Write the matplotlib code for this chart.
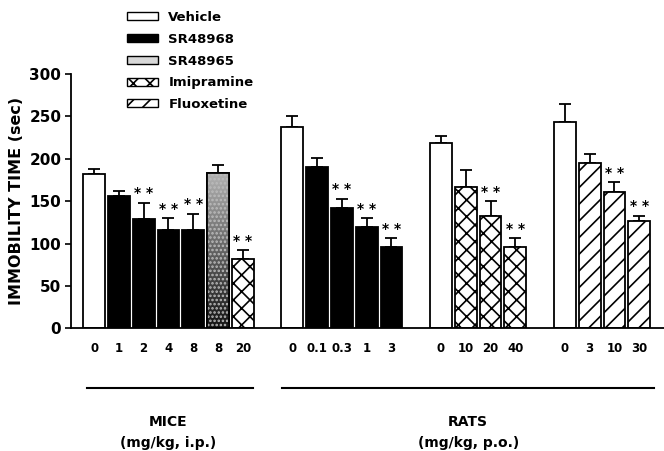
import numpy as np
import matplotlib
matplotlib.use('Agg')
import matplotlib.pyplot as plt
from matplotlib.patches import Patch

plt.rcParams['font.family'] = ['DejaVu Sans']
plt.rcParams['font.weight'] = 'bold'
plt.rcParams['hatch.linewidth'] = 1.2

# bar positions (gaps of one slot between groups)
pos = [0, 1, 2, 3, 4, 5, 6,
       8, 9, 10, 11, 12,
       14, 15, 16, 17,
       19, 20, 21, 22]
dose_labels = ['0', '1', '2', '4', '8', '8', '20',
               '0', '0.1', '0.3', '1', '3',
               '0', '10', '20', '40',
               '0', '3', '10', '30']
treatment = ['Vehicle', 'SR48968', 'SR48968', 'SR48968', 'SR48968', 'SR48965', 'Imipramine',
             'Vehicle', 'SR48968', 'SR48968', 'SR48968', 'SR48968',
             'Vehicle', 'Imipramine', 'Imipramine', 'Imipramine',
             'Vehicle', 'Fluoxetine', 'Fluoxetine', 'Fluoxetine']
means = [182, 156, 129, 116, 116, 183, 82,
         238, 190, 142, 120, 96,
         219, 167, 133, 96,
         243, 195, 161, 127]
sems = [6, 6, 19, 14, 19, 10, 10,
        12, 11, 11, 10, 10,
        8, 20, 17, 10,
        21, 11, 11, 6]
signif = [False, False, True, True, True, False, True,
          False, False, True, True, True,
          False, False, True, True,
          False, False, True, True]

styles = {
    'Vehicle': dict(facecolor='white', hatch=None),
    'SR48968': dict(facecolor='black', hatch=None),
    'SR48965': dict(facecolor='#4a4a4a', hatch=None),
    'Imipramine': dict(facecolor='white', hatch='xx'),
    'Fluoxetine': dict(facecolor='white', hatch='//'),
}

fig = plt.figure(figsize=(6.64, 4.51), dpi=100)
ax = fig.add_axes([0.107, 0.272, 0.893, 0.564])

width = 0.88
for x, t, m, s, sg in zip(pos, treatment, means, sems, signif):
    st = styles[t]
    bar = ax.bar(x, m, width=width, facecolor=st['facecolor'], edgecolor='black',
                 hatch=st['hatch'], linewidth=1.3, zorder=2)[0]
    if t == 'SR48965':
        # stippled grey, lighter towards the top
        grad = np.linspace(0.08, 0.7, 100).reshape(-1, 1)
        im = ax.imshow(grad, cmap='gray', vmin=0, vmax=1, aspect='auto',
                       extent=[x - width / 2, x + width / 2, 0, m], origin='lower', zorder=2.5)
        im.set_clip_path(bar)
        ax.bar(x, m, width=width, facecolor='none', edgecolor='#bbbbbb', hatch='....',
               linewidth=0, zorder=2.7)
        ax.bar(x, m, width=width, facecolor='none', edgecolor='black', linewidth=1.3, zorder=3)
    ax.errorbar(x, m, yerr=[[0], [s]], fmt='none', ecolor='black', elinewidth=1.3,
                capsize=4, capthick=1.3, zorder=1)
    if sg:
        ax.text(x, m + s + 3, '* *', ha='center', va='bottom', fontsize=10, fontweight='bold')

ax.set_xlim(-0.93, 23)
ax.set_ylim(0, 300)
ax.set_yticks([0, 50, 100, 150, 200, 250, 300])
ax.set_xticks(pos)
ax.set_xticklabels(dose_labels, fontsize=8.5, fontweight='bold')
ax.tick_params(axis='x', length=0, pad=10)
ax.tick_params(axis='y', labelsize=11, length=4, width=1.2, pad=3)
for lab in ax.get_yticklabels():
    lab.set_fontweight('bold')
ax.spines['top'].set_visible(False)
ax.spines['right'].set_visible(False)
ax.spines['left'].set_linewidth(1.3)
ax.spines['bottom'].set_linewidth(1.3)
ax.set_ylabel('IMMOBILITY TIME (sec)', fontsize=11.5, fontweight='bold', labelpad=4)

# group lines and labels below the axis
ax.plot([-0.3, 6.4], [-70, -70], color='black', lw=1.5, clip_on=False)
ax.plot([7.6, 22.6], [-70, -70], color='black', lw=1.5, clip_on=False)
ax.text(3, -110, 'MICE', ha='center', va='center', fontsize=10, fontweight='bold')
ax.text(3, -135, '(mg/kg, i.p.)', ha='center', va='center', fontsize=10, fontweight='bold')
ax.text(15.1, -110, 'RATS', ha='center', va='center', fontsize=10, fontweight='bold')
ax.text(15.1, -135, '(mg/kg, p.o.)', ha='center', va='center', fontsize=10, fontweight='bold')

names = ['Vehicle', 'SR48968', 'SR48965', 'Imipramine', 'Fluoxetine']
handles = [Patch(facecolor=styles[n]['facecolor'] if n != 'SR48965' else '#d8d8d8',
                 edgecolor='black', hatch=styles[n]['hatch'], linewidth=1.0) for n in names]
fig.legend(handles, names, loc='upper left', bbox_to_anchor=(0.181, 0.99), frameon=False,
           handlelength=2.4, handleheight=0.55, labelspacing=0.66, handletextpad=0.75,
           borderpad=0, prop={'weight': 'bold', 'size': 9.5})

fig.savefig('out.png', dpi=100)
